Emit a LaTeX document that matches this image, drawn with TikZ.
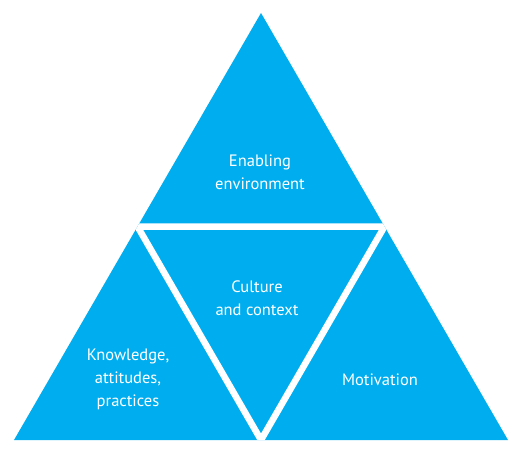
\documentclass[tikz,border=0pt]{standalone}
\usepackage{fontspec}
\setmainfont{PT Sans}
\usetikzlibrary{calc}
\definecolor{skyblue}{HTML}{00AEEF}
\tikzset{lbl/.style={text=white, align=center, inner sep=0pt, font=\fontsize{16.5}{23}\selectfont}}

\begin{document}
\begin{tikzpicture}[x=1pt,y=1pt]
\useasboundingbox (0,0) rectangle (521,459);
% corners
\coordinate (top) at (261,446);
\coordinate (left) at (14,19);
\coordinate (right) at (508,19);
\coordinate (ml) at ($(top)!0.5!(left)$);
\coordinate (mr) at ($(top)!0.5!(right)$);
\coordinate (mb) at ($(left)!0.5!(right)$);
\fill[skyblue] (top) -- (left) -- (right) -- cycle;
% white rim of the middle one
\begin{scope}
\clip (top) -- (left) -- (right) -- cycle;
\draw[white, line width=6.5pt] (ml) -- (mr) -- (mb) -- cycle;
\end{scope}
% labels
\node[lbl] (enab) at (260,287) {Enabling\\environment};
\node[lbl] (cult) at (257,161) {Culture\\and context};
\node[lbl] (know) at (128,80) {Knowledge,\\attitudes,\\practices};
\node[lbl] (moti) at (380,79) {Motivation};
\end{tikzpicture}
\end{document}
